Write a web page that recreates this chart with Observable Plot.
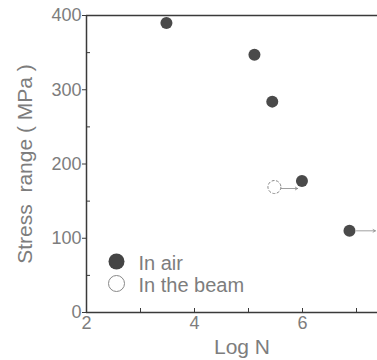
<!DOCTYPE html>
<html>
<head>
<meta charset="utf-8">
<script src="https://cdn.jsdelivr.net/npm/d3@7"></script>
<script src="https://cdn.jsdelivr.net/npm/@observablehq/plot@0.6"></script>
<style>
  html, body { margin: 0; padding: 0; background: #fff; overflow: hidden; }
</style>
</head>
<body>
<div id="chart"></div>
<script>
// Fatigue data: log of cycles vs stress range
const airLogN = [3.48, 5.11, 5.44, 5.99, 6.87];
const airStress = [390, 347, 284, 177, 110];
const beamLogN = [5.48];
const beamStress = [169];
// run-out arrows (start logN, end logN, stress)
const arrowFrom = [5.59, 7.0];
const arrowTo = [5.91, 7.35];
const arrowStress = [167, 110];
const yTicks = [0, 100, 200, 300, 400];
const yMinor = [50, 150, 250, 350];
const xTicks = [2, 4, 6];
const xMinor = [3, 4, 5, 6, 7];
const legendLabels = ["In air", "In the beam"];

const air = airLogN.map((x, i) => ({x, y: airStress[i]}));
const beam = beamLogN.map((x, i) => ({x, y: beamStress[i]}));
const arrows = arrowFrom.map((x1, i) => ({x1, x2: arrowTo[i], y: arrowStress[i]}));

const font = "Liberation Sans, Arial, Helvetica, sans-serif";
const textColor = "#7d7d7d";
const lineColor = "#3a3a3a";

const chart = Plot.plot({
  width: 377,
  height: 360,
  marginLeft: 86,
  marginRight: 0,
  marginTop: 15,
  marginBottom: 48,
  style: {fontFamily: font, fontSize: "18px", color: textColor, background: "#fff"},
  x: {domain: [2, 2 + 291 / 54], label: null},
  y: {domain: [0, 400], label: null},
  marks: [
    // frame lines
    Plot.ruleY([400], {stroke: lineColor, strokeWidth: 1.5}),
    Plot.ruleY([0], {stroke: lineColor, strokeWidth: 1.6}),
    Plot.ruleX([2], {stroke: lineColor, strokeWidth: 1.5}),
    // y axis
    Plot.axisY({ticks: yTicks, tickSize: 4, tickPadding: 1, stroke: lineColor, fill: textColor, fontSize: 18, label: null}),
    Plot.axisY({ticks: yMinor, tickSize: -4, text: null, stroke: lineColor, label: null}),
    // x axis
    Plot.axisX({ticks: xMinor, tickSize: -4, text: null, stroke: lineColor, label: null}),
    Plot.axisX({ticks: xTicks, tickSize: 0, tickPadding: 4, tickFormat: d => String(d), fill: textColor, fontSize: 18, label: null}),
    // axis titles
    Plot.text(["Log N"], {frameAnchor: "bottom", dx: 10, dy: 35, textAnchor: "middle", lineAnchor: "middle", fontSize: 21, fill: textColor}),
    Plot.text(["Stress  range ( MPa )"], {frameAnchor: "left", dx: -61, rotate: -90, textAnchor: "middle", lineAnchor: "middle", fontSize: 21, fill: textColor}),
    // run-out arrows
    Plot.arrow(arrows, {x1: "x1", x2: "x2", y1: "y", y2: "y", stroke: "#888", strokeWidth: 0.8, headLength: 5}),
    // data
    Plot.dot(beam, {x: "x", y: "y", r: 6.5, stroke: "#888", strokeWidth: 1, strokeDasharray: "3,1.5", fill: "white"}),
    Plot.dot(air, {x: "x", y: "y", r: 6, fill: "#4a4a4a"}),
    // legend
    Plot.dot([legendLabels[0]], {frameAnchor: "bottom-left", dx: 30, dy: -51, r: 8, fill: "#444"}),
    Plot.dot([legendLabels[1]], {frameAnchor: "bottom-left", dx: 30, dy: -29, r: 8, stroke: "#888", strokeWidth: 1, fill: "white"}),
    Plot.text([legendLabels[0]], {text: d => d, frameAnchor: "bottom-left", dx: 52, dy: -49, textAnchor: "start", lineAnchor: "middle", fontSize: 20, fill: textColor}),
    Plot.text([legendLabels[1]], {text: d => d, frameAnchor: "bottom-left", dx: 52, dy: -27, textAnchor: "start", lineAnchor: "middle", fontSize: 20, fill: textColor})
  ]
});
document.getElementById("chart").append(chart);
</script>
</body>
</html>
